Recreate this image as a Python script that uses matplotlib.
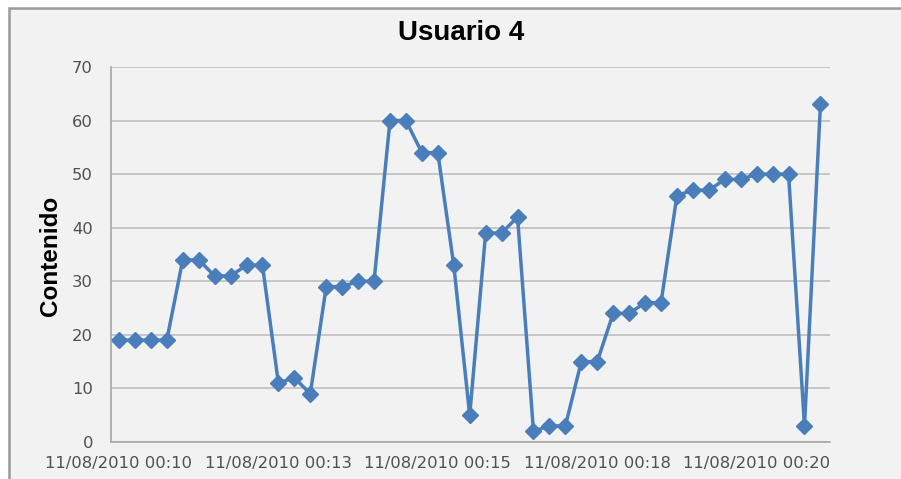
import matplotlib.pyplot as plt
from matplotlib.patches import Rectangle

plt.rcParams['font.family'] = ['Liberation Sans', 'DejaVu Sans']

contenido = [19, 19, 19, 19, 34, 34, 31, 31, 33, 33,
             11, 12, 9, 29, 29, 30, 30, 60, 60, 54,
             54, 33, 5, 39, 39, 42, 2, 3, 3, 15,
             15, 24, 24, 26, 26, 46, 47, 47, 49, 49,
             50, 50, 50, 3, 63]
tick_pos = [0, 10, 20, 30, 40]
tick_labels = ['11/08/2010 00:10', '11/08/2010 00:13', '11/08/2010 00:15',
               '11/08/2010 00:18', '11/08/2010 00:20']


def main():
    fig = plt.figure(figsize=(9.01, 4.79), dpi=100, facecolor='white')
    fig.patches.append(Rectangle((0.0105, -0.02), 1.0, 1.003, transform=fig.transFigure,
                                 facecolor='#f2f2f2', edgecolor='#9a9a9a', lw=1.8,
                                 zorder=-10))
    ax = fig.add_axes([0.1232, 0.0772, 0.798, 0.783])
    ax.set_facecolor('#f2f2f2')

    ax.plot(range(len(contenido)), contenido, color='#4a7ebb', lw=2.5,
            marker='D', markersize=8, markerfacecolor='#4a7ebb', markeredgecolor='#4a7ebb')

    ax.set_ylim(0, 70)
    ax.set_yticks(range(0, 71, 10))
    ax.set_xlim(-0.5, 44.6)
    ax.set_xticks(tick_pos)
    ax.set_xticklabels(tick_labels)
    ax.yaxis.grid(True, color='#bfbfbf', lw=1.2)
    ax.set_axisbelow(True)
    for s in ['top', 'right']:
        ax.spines[s].set_visible(False)
    for s in ['left', 'bottom']:
        ax.spines[s].set_color('#a6a6a6')
        ax.spines[s].set_linewidth(1.2)
    for lab in ax.get_xticklabels() + ax.get_yticklabels():
        lab.set_family('DejaVu Sans')
    ax.tick_params(axis='both', labelsize=11.8, labelcolor='#505050')
    ax.tick_params(axis='y', length=0, pad=13)
    ax.tick_params(axis='x', length=0, pad=10)

    fig.text(461 / 901, 1 - 33 / 479, 'Usuario 4', fontsize=20, fontweight='bold',
             ha='center', va='center')
    fig.text(51 / 901, 1 - 256 / 479, 'Contenido', fontsize=17.5, fontweight='bold',
             rotation=90, ha='center', va='center')

    fig.savefig('out.png', dpi=100, facecolor=fig.get_facecolor())


if __name__ == "__main__":
    main()
